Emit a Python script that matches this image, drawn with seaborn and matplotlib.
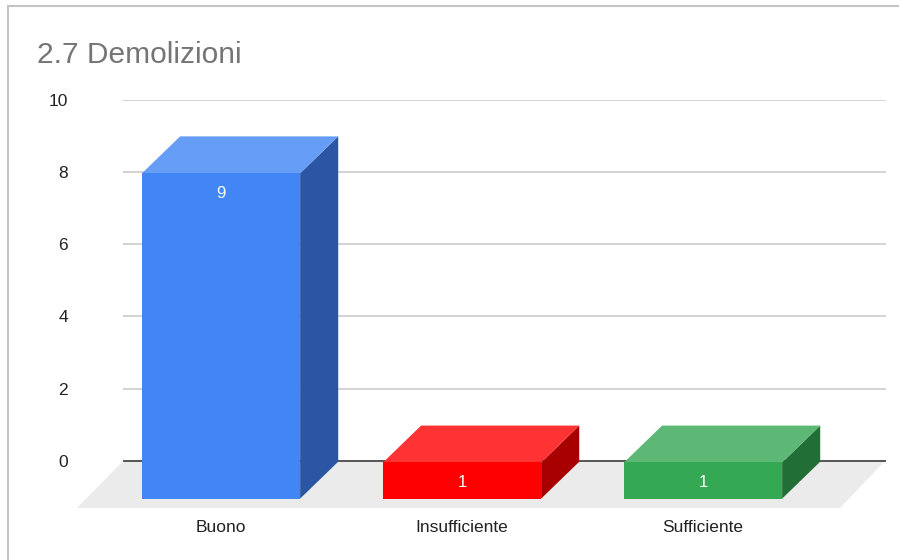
import matplotlib
matplotlib.use("Agg")
import matplotlib.pyplot as plt
import seaborn as sns
import pandas as pd
from matplotlib.patches import Polygon, Rectangle

categorie = ["Buono", "Insufficiente", "Sufficiente"]
valori = [9, 1, 1]
colori_fronte = ["#4285f4", "#ff0000", "#34a853"]
colori_sopra = ["#669df6", "#ff3333", "#5cb874"]
colori_lato = ["#2a56a3", "#a80000", "#216e36"]
tick_y = [0, 2, 4, 6, 8, 10]

sns.set_style("white")
plt.rcParams["font.family"] = ["Liberation Sans", "DejaVu Sans"]

W, H = 899, 560
fig = plt.figure(figsize=(W / 100, H / 100), dpi=100)
# area of the axes in pixels: x 123..886, y 99.5 (10) .. 508 (floor)
ax = fig.add_axes([123 / W, (H - 508) / H, (886 - 123) / W, (508 - 99.5) / H])

df = pd.DataFrame({"categoria": categorie, "valore": valori})
sns.barplot(data=df, x="categoria", y="valore", hue="categoria",
            palette=colori_fronte, width=0.656, legend=False, ax=ax,
            saturation=1, linewidth=0, edgecolor="none")

ax.set_xlim(-0.407, 2.759)
ax.set_ylim(-1.3, 10)

base = -1.04   # the 3D box starts a little below the zero line
dx, dy = 0.158, 1.02

# floor
ax.add_patch(Polygon([(-0.598, -1.3), (2.568, -1.3), (2.755, 0), (-0.407, 0)],
                     closed=True, facecolor="#ebebeb", edgecolor="none",
                     zorder=1, clip_on=False))

for t in tick_y:
    if t == 0:
        ax.axhline(t, color="#555555", lw=1.4, zorder=2)
    else:
        ax.axhline(t, color="#cccccc", lw=1.2, zorder=0)

barre = [q for q in ax.patches if isinstance(q, Rectangle)][:len(valori)]
for i, p in enumerate(barre):
    p.set_y(base)
    p.set_zorder(5)
    x0 = p.get_x()
    x1 = x0 + p.get_width()
    top = base + p.get_height()
    ax.add_patch(Polygon([(x1, base), (x1 + dx, base + dy), (x1 + dx, top + dy), (x1, top)],
                         closed=True, facecolor=colori_lato[i], edgecolor="none",
                         zorder=4, clip_on=False))
    ax.add_patch(Polygon([(x0, top), (x1, top), (x1 + dx, top + dy), (x0 + dx, top + dy)],
                         closed=True, facecolor=colori_sopra[i], edgecolor="none",
                         zorder=4, clip_on=False))
    ax.text(x0 + p.get_width() / 2, top - 0.56, str(valori[i]), color="white",
            ha="center", va="center", fontsize=12, zorder=6)

ax.set_yticks(tick_y)
ax.set_yticklabels([str(t) for t in tick_y])
ax.tick_params(axis="y", length=0, pad=39.6, labelsize=12.5, labelcolor="#222222")
ax.tick_params(axis="x", length=0, pad=9, labelsize=12.5, labelcolor="#222222")
ax.set_xlabel("")
ax.set_ylabel("")
sns.despine(ax=ax, left=True, bottom=True)

fig.text(37 / W, (H - 63) / H, "2.7 Demolizioni", color="#757575",
         fontsize=21.5, ha="left", va="baseline")

# chart frame (only left and top edges are visible in the crop)
fig.add_artist(Rectangle((8 / W, -0.1), 1.2, (H - 6) / H + 0.1,
                         transform=fig.transFigure, fill=False,
                         edgecolor="#c4c4c4", lw=1.5))

fig.savefig("out.png", dpi=100)
